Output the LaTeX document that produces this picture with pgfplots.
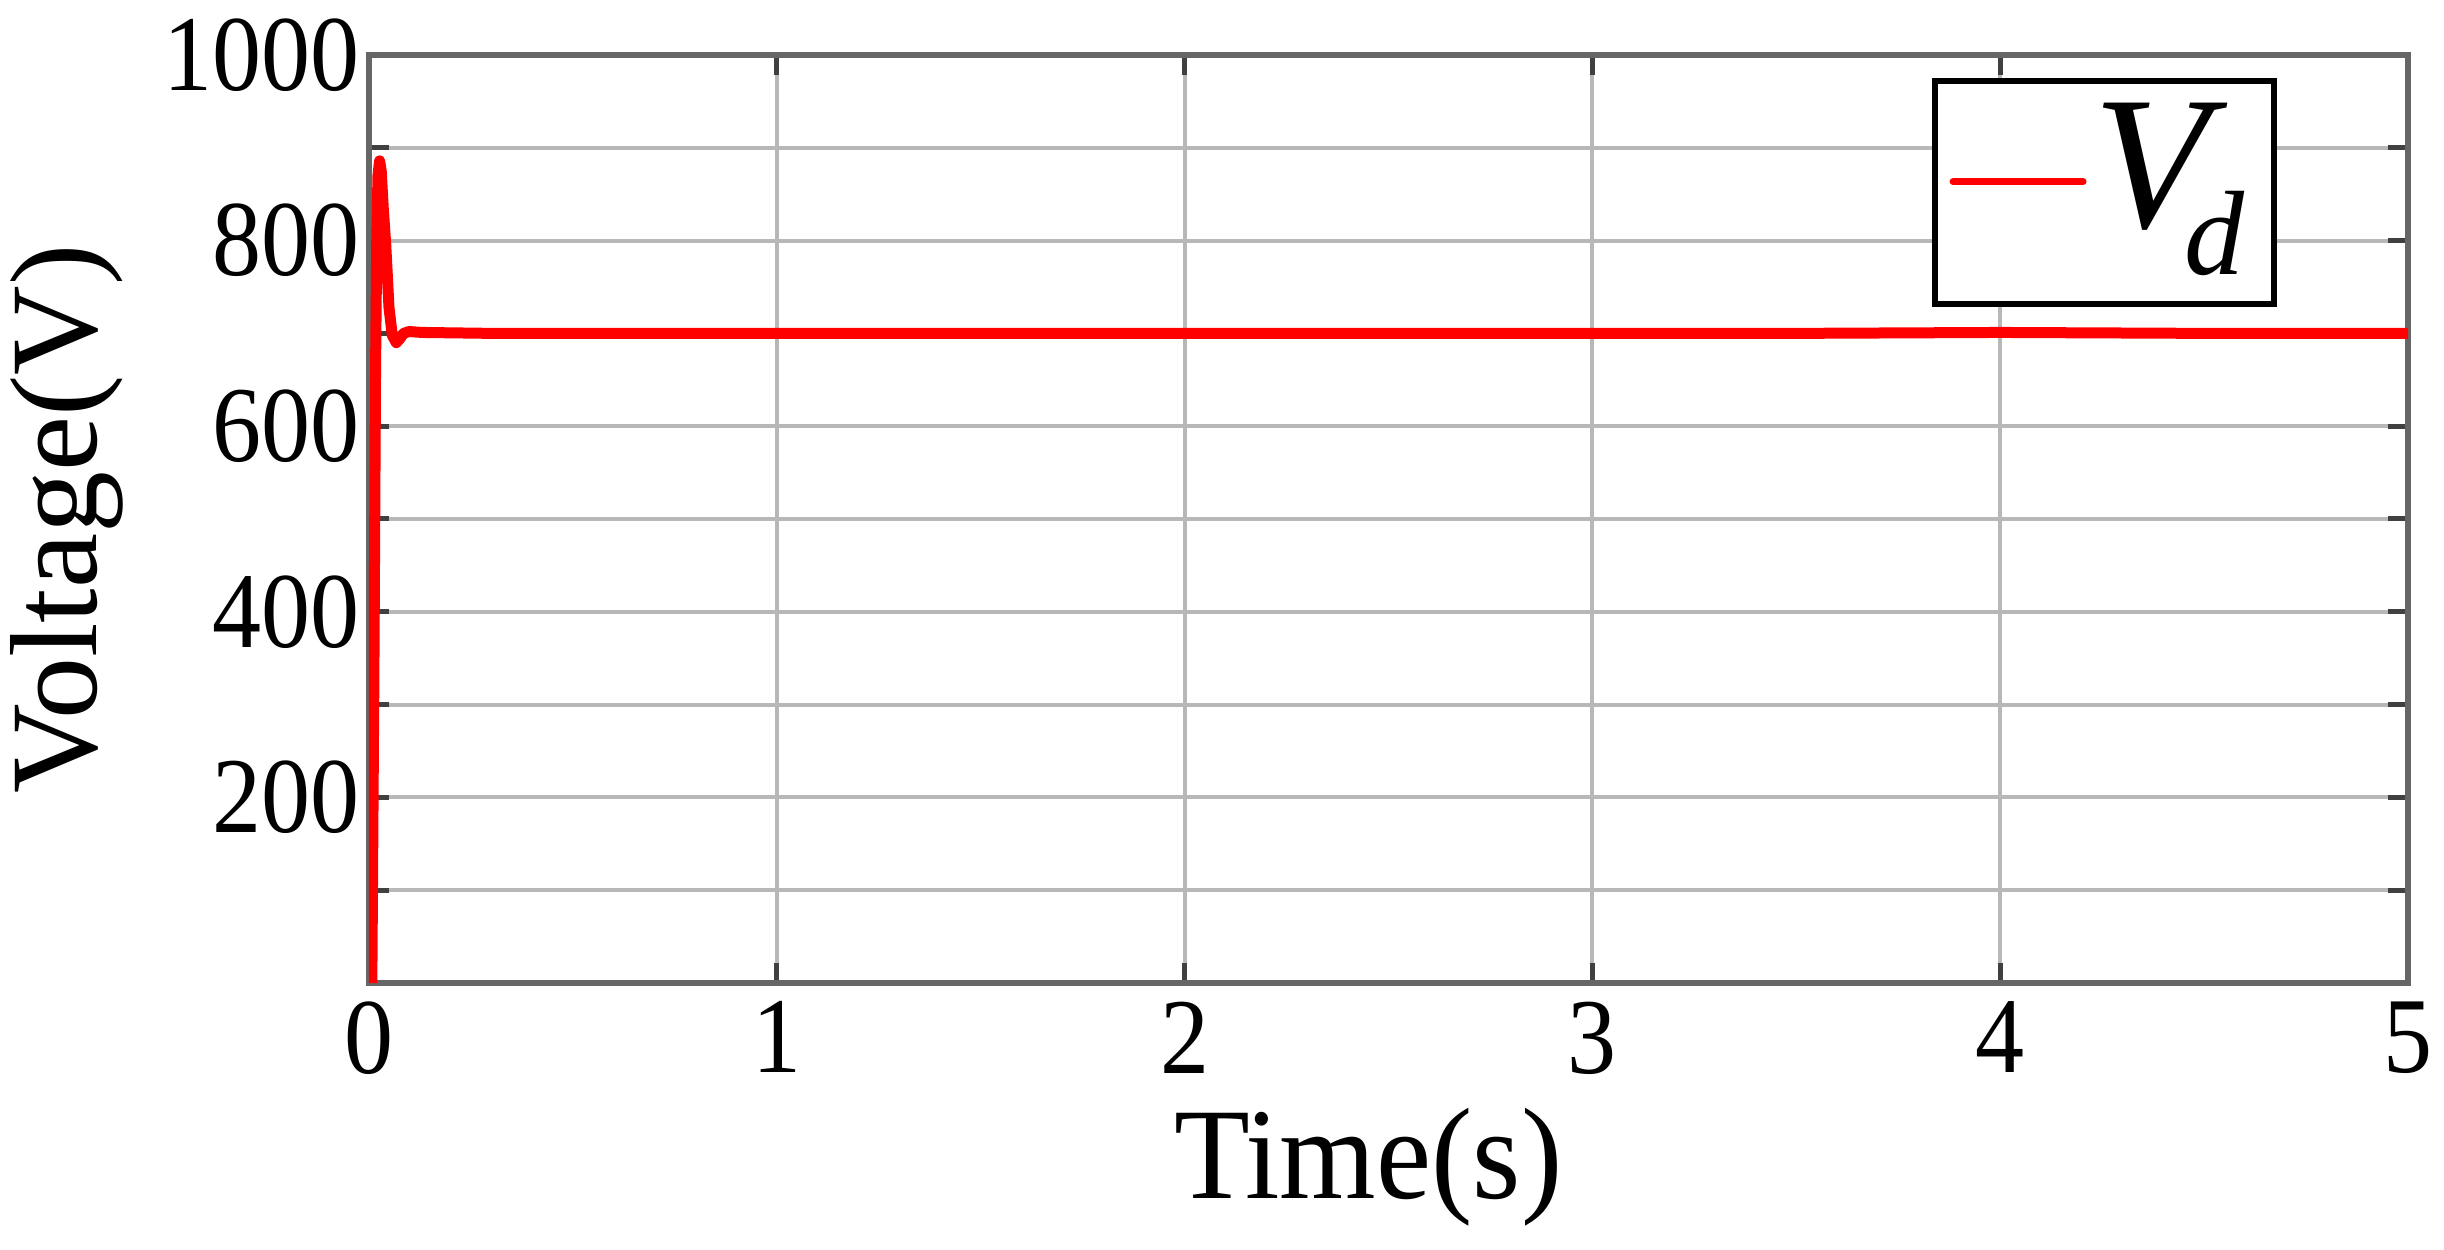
\documentclass[border=0pt]{standalone}
\usepackage{fontspec}
\setmainfont{Liberation Serif}
\usepackage{pgfplots}
\pgfplotsset{compat=1.18}

\begin{document}
\begin{tikzpicture}
\begin{axis}[
    name=ax,
    scale only axis,
    width=203.9pt, height=92.8pt,
    xmin=0, xmax=5, ymin=0, ymax=1000,
    xtick={0,1,2,3,4,5},
    ytick={200,400,600,800,1000},
    minor ytick={100,300,500,700,900},
    grid=both,
    grid style={black!28, line width=0.4pt},
    minor grid style={black!28, line width=0.4pt},
    axis line style={black!60, line width=0.6pt},
    tick align=inside,
    major tick length=2pt, minor tick length=2pt,
    tick style={black!75, line width=0.5pt},
    /pgf/number format/assume math mode=true,
    /pgf/number format/1000 sep={},
    ticklabel style={font=\fontsize{9.8}{9.8}\selectfont, yscale=1.1},
    yticklabel style={inner xsep=0.7pt, inner ysep=0pt},
    xticklabel style={inner ysep=1.5pt, inner xsep=0pt},
    xlabel={Time(s)}, ylabel={Voltage(V)},
    label style={font=\fontsize{12.4}{12.4}\selectfont, inner sep=0pt},
    xlabel style={at={(axis description cs:0.490,-0.1325)}, anchor=north, yscale=1.05},
    ylabel style={at={(axis description cs:-0.1197,0.5)}, anchor=south},
    legend style={at={(axis description cs:0.9358,0.975)}, anchor=north east,
        draw=black, line width=0.6pt, fill=white,
        inner xsep=0pt, inner ysep=0pt,
        nodes={inner sep=0pt}, column sep=0pt},
    every legend image post/.style={line width=0.7pt, line cap=round},
    legend image code/.code={
        \path[draw=none] (-1.8pt,0pt) -- (14pt,0pt);
        \draw[#1] (0pt,1.1pt) -- (13pt,1.1pt);},
]
\addplot[red, line width=1.1pt, line join=round] coordinates {
 (0.007,0) (0.012,330) (0.016,657) (0.019,800) (0.022,870) (0.026,886)
 (0.030,875) (0.035,835) (0.041,796) (0.049,728) (0.057,698) (0.067,690)
 (0.075,694) (0.085,700) (0.098,702) (0.130,701) (0.300,700) (0.600,700)
 (1.000,700) (1.500,700) (2.000,700) (2.500,700) (3.000,700) (3.500,700)
 (4.000,701) (4.500,700) (5.000,700)
};
\addlegendentry{\raisebox{6.2pt}[20.8pt][0pt]{{\fontsize{19}{19}\selectfont\itshape V}\kern-2.5pt\raisebox{-4.7pt}{\fontsize{12}{12}\selectfont\itshape d}\kern3.0pt}}
\end{axis}
\path ([shift={(-36.9pt,-26.6pt)}]ax.south west) rectangle ([shift={(3.6pt,5.5pt)}]ax.north east);
\end{tikzpicture}
\end{document}
